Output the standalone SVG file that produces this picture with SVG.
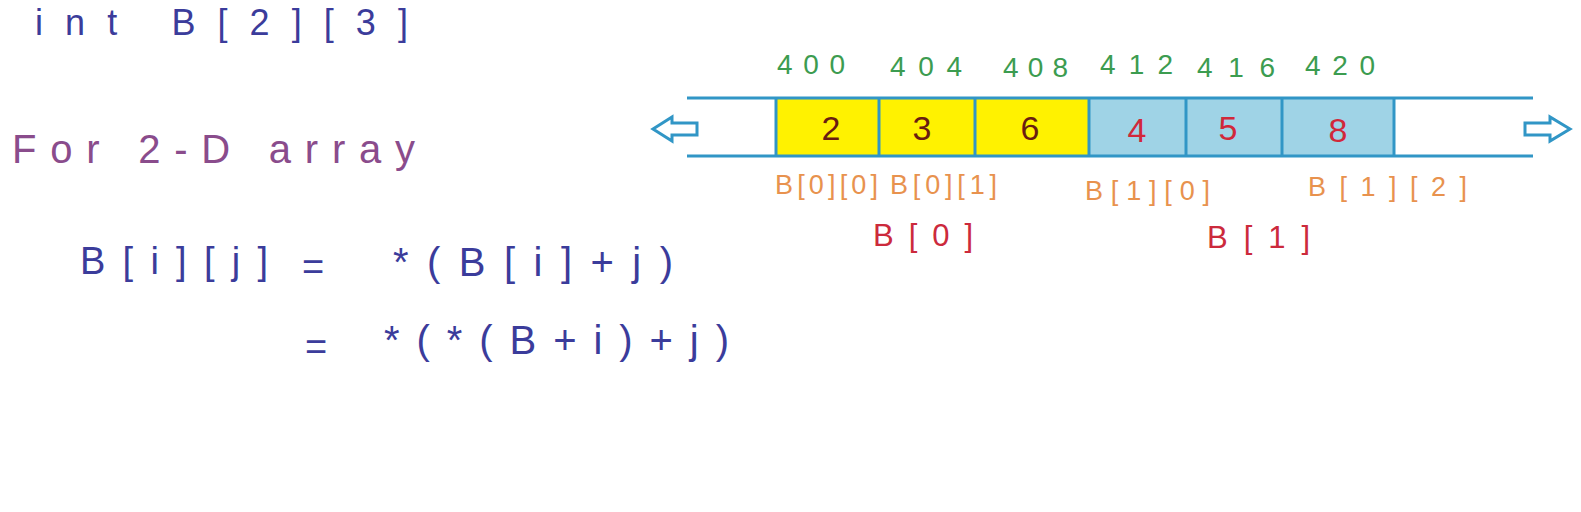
<svg xmlns="http://www.w3.org/2000/svg" width="1581" height="512" viewBox="0 0 1581 512">
<style>
text{font-family:"Liberation Sans","DejaVu Sans",sans-serif}
.blue{fill:#3b3c9b}
.purple{fill:#8a4c8c}
.green{fill:#3c9c50;font-size:28px}
.val{font-size:34px;text-anchor:middle}
.dk{fill:#6a1d10}
.rd{fill:#d1283a}
.or{fill:#e8924e;font-size:27px}
.red{fill:#cc2a3c;font-size:31px}
.ln{stroke:#3196c6;stroke-width:3;fill:none}
.arw{stroke:#3196c6;stroke-width:3;fill:#fff;stroke-linejoin:miter}
</style>
<rect width="1581" height="512" fill="#fff"/>
<g id="declaration"><text class="blue" x="35" y="35" font-size="36" textLength="373" lengthAdjust="spacing">int B[2][3]</text></g>
<g id="heading"><text class="purple" x="12" y="163" font-size="40" textLength="403" lengthAdjust="spacing">For 2-D array</text></g>
<g id="equation">
<text class="blue" x="80" y="274" font-size="38" textLength="188" lengthAdjust="spacing">B[i][j]</text>
<text class="blue" x="302" y="280" font-size="38">=</text>
<text class="blue" x="393" y="276" font-size="40" textLength="280" lengthAdjust="spacing">*(B[i]+j)</text>
<text class="blue" x="305" y="360" font-size="38">=</text>
<text class="blue" x="384" y="354" font-size="40" textLength="345" lengthAdjust="spacing">*(*(B+i)+j)</text>
</g>
<g id="cells">
<rect x="776" y="98" width="313" height="58" fill="#fff200"/>
<rect x="1089" y="98" width="305" height="58" fill="#9fd3e6"/>
</g>
<g id="connectors">
<line class="ln" x1="687" y1="98" x2="1533" y2="98"/>
<line class="ln" x1="687" y1="156" x2="1533" y2="156"/>
<line class="ln" x1="776" y1="98" x2="776" y2="156"/>
<line class="ln" x1="879" y1="98" x2="879" y2="156"/>
<line class="ln" x1="975" y1="98" x2="975" y2="156"/>
<line class="ln" x1="1089" y1="98" x2="1089" y2="156"/>
<line class="ln" x1="1186" y1="98" x2="1186" y2="156"/>
<line class="ln" x1="1282" y1="98" x2="1282" y2="156"/>
<line class="ln" x1="1394" y1="98" x2="1394" y2="156"/>
<path class="arw" d="M653,129 L672,117 L672,123 L697,123 L697,135 L672,135 L672,141 Z"/>
<path class="arw" d="M1570,129 L1550,117 L1550,123 L1525,123 L1525,135 L1550,135 L1550,141 Z"/>
</g>
<g id="addresses">
<text class="green" x="777" y="74" textLength="68" lengthAdjust="spacing">400</text>
<text class="green" x="890" y="76" textLength="72" lengthAdjust="spacing">404</text>
<text class="green" x="1003" y="77" textLength="65" lengthAdjust="spacing">408</text>
<text class="green" x="1100" y="74" textLength="73" lengthAdjust="spacing">412</text>
<text class="green" x="1197" y="77" textLength="78" lengthAdjust="spacing">416</text>
<text class="green" x="1305" y="75" textLength="70" lengthAdjust="spacing">420</text>
</g>
<g id="values">
<text class="val dk" x="831" y="140">2</text>
<text class="val dk" x="922" y="140">3</text>
<text class="val dk" x="1030" y="140">6</text>
<text class="val rd" x="1137" y="142">4</text>
<text class="val rd" x="1228" y="140">5</text>
<text class="val rd" x="1338" y="142">8</text>
</g>
<g id="element-labels">
<text class="or" x="775" y="194" textLength="103" lengthAdjust="spacing">B[0][0]</text>
<text class="or" x="890" y="194" textLength="107" lengthAdjust="spacing">B[0][1]</text>
<text class="or" x="1085" y="200" textLength="125" lengthAdjust="spacing">B[1][0]</text>
<text class="or" x="1308" y="196" textLength="159" lengthAdjust="spacing">B[1][2]</text>
</g>
<g id="row-labels">
<text class="red" x="873" y="246" textLength="100" lengthAdjust="spacing">B[0]</text>
<text class="red" x="1207" y="248" textLength="103" lengthAdjust="spacing">B[1]</text>
</g>
</svg>
